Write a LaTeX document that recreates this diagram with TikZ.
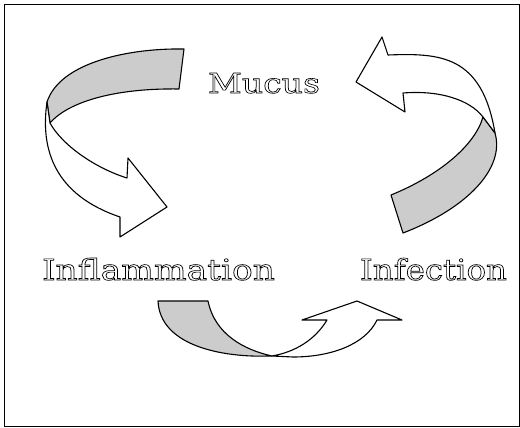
\documentclass[tikz,border=0pt]{standalone}
\usepackage{fontspec}
\setmainfont{DejaVu Serif}
\usepackage{graphicx}
\definecolor{ribbongray}{RGB}{204,204,204}
\newcommand{\outlinetext}[1]{\special{pdf:literal direct 1 Tr 0.6 w}#1\special{pdf:literal direct 0 Tr}}
\tikzset{
  frontband/.style={draw=black, line width=1.1pt, fill=white, line join=round},
  backband/.style={draw=black, line width=1.1pt, fill=ribbongray, line join=round},
  label/.style={anchor=base, inner sep=0pt, font=\fontsize{27}{30}\selectfont}
}
\begin{document}
\begin{tikzpicture}[x=1pt,y=-1pt]
\useasboundingbox (0,0) rectangle (520,428);
\fill[white] (0,0) rectangle (520,428);
\draw[line width=1.2pt] (4.5,4.5) rectangle (519.5,426.5);

% Arrow 1: Mucus -> Inflammation
\draw[backband] (184,49) -- (179,89) .. controls (120,88) and (70,100) .. (50,123)
  -- (47,102) .. controls (60,62) and (130,48) .. (184,49) -- cycle;
\draw[frontband] (47,102) .. controls (40,150) and (55,195) .. (120,217)
  -- (120,237) -- (167,207) -- (128,158) -- (127,178)
  .. controls (95,168) and (62,145) .. (50,123) -- cycle;

% Arrow 2: Infection -> Mucus
\draw[backband] (391,195) -- (403,233) .. controls (468,208) and (505,168) .. (495,133)
  -- (483,117) .. controls (475,145) and (440,175) .. (391,195) -- cycle;
\draw[frontband] (495,133) .. controls (482,55) and (440,53) .. (388,55)
  -- (382,37) -- (356,82) -- (405,112) -- (403,93)
  .. controls (440,90) and (470,100) .. (483,117) -- cycle;

% Arrow 3: Inflammation -> Infection
\draw[backband] (158,301) -- (208,301) .. controls (215,335) and (245,350) .. (272,356)
  .. controls (220,358) and (160,345) .. (158,301) -- cycle;
\draw[frontband] (272,356) -- (293,357) .. controls (330,357) and (365,345) .. (377,320)
  -- (402,320) -- (357,301) -- (302,320) -- (327,320)
  .. controls (315,340) and (295,352) .. (272,356) -- cycle;

% Labels
\node[label] (mucus) at (264,93) {\resizebox{112pt}{20pt}{\outlinetext{Mucus}}};
\node[label] (inflammation) at (158.5,280) {\resizebox{233pt}{22pt}{\outlinetext{Inflammation}}};
\node[label] (infection) at (433.5,280) {\resizebox{147pt}{22pt}{\outlinetext{Infection}}};
\end{tikzpicture}
\end{document}
